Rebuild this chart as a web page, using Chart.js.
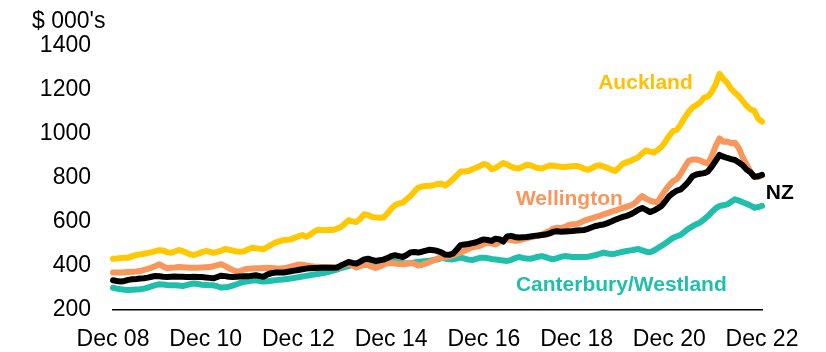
<!DOCTYPE html>
<html>
<head>
<meta charset="utf-8">
<script src="https://cdn.jsdelivr.net/npm/chart.js@4/dist/chart.umd.min.js"></script>
<style>
  html, body { margin: 0; padding: 0; background: #fff; }
  #wrap { width: 826px; height: 352px; position: relative; }
</style>
</head>
<body>
<div id="wrap"><canvas id="c" width="826" height="352"></canvas></div>
<script>
// ---- Data (monthly, Dec 08 .. Dec 22), $ 000's ----
const tickLabels = ['Dec 08','Dec 10','Dec 12','Dec 14','Dec 16','Dec 18','Dec 20','Dec 22'];
const yTickValues = [200, 400, 600, 800, 1000, 1200, 1400];
const unitLabel = "$ 000's";

const auckland = [
433,434,436,437,438,445,450,453,456,459,463,468,472,470,463,460,466,473,468,460,453,450,456,463,
468,465,460,464,470,477,474,470,466,465,467,476,483,481,478,477,487,497,506,512,517,519,521,528,
535,541,533,542,555,564,564,563,565,564,570,577,592,608,603,600,615,635,632,623,621,619,620,638,
660,677,684,688,703,718,738,756,761,764,765,767,773,774,766,778,794,812,829,830,832,840,847,855,
864,858,840,845,857,868,862,852,845,843,851,860,858,851,845,843,850,857,856,853,851,850,852,854,
855,850,842,837,845,855,858,852,846,838,832,848,865,872,878,886,895,912,926,920,915,928,942,965,
992,1014,1020,1045,1075,1100,1120,1132,1143,1165,1170,1192,1225,1274,1250,1232,1205,1188,1172,1150,
1128,1112,1105,1070,1056];

const wellington = [
370,370,371,372,373,374,375,377,382,387,393,400,408,398,390,392,393,395,394,393,392,392,392,393,
394,395,399,404,408,400,390,382,375,378,384,388,389,390,390,391,392,391,390,388,390,392,397,402,
407,406,403,400,398,397,396,395,394,393,392,399,406,411,403,393,399,406,404,397,391,398,406,413,
413,411,409,408,410,414,410,402,405,412,418,425,435,437,440,443,448,455,461,469,478,485,488,492,
500,506,502,498,509,519,520,518,515,516,521,526,530,534,537,543,551,560,570,574,572,578,587,590,
591,597,606,612,617,623,628,635,640,647,652,658,664,670,675,685,702,718,706,697,692,690,720,745,
768,786,796,820,850,878,884,884,880,872,865,900,945,980,965,966,958,960,935,895,
862,830,805,805,812];

const nz = [
335,332,330,332,337,340,341,343,344,347,351,355,353,351,350,351,352,351,351,350,350,351,350,350,
348,346,344,350,356,354,351,350,351,352,353,353,356,358,354,351,362,367,370,370,370,373,376,379,
382,385,388,390,391,391,392,392,392,392,393,402,410,418,414,411,420,430,433,428,423,426,429,436,
445,449,445,441,450,462,464,461,465,470,474,472,468,462,452,451,456,475,495,498,500,504,508,515,
521,518,514,524,522,511,534,537,532,530,531,532,534,537,539,541,543,548,556,558,556,557,558,559,
561,562,564,569,576,582,586,589,595,602,610,617,623,628,635,645,656,664,655,645,652,662,673,695,
718,732,743,748,765,784,808,816,819,822,830,852,878,905,897,891,886,882,870,858,
838,826,806,808,814];

const canterbury = [
301,297,294,292,291,292,293,294,297,302,308,313,317,316,314,313,312,311,309,313,318,320,318,315,
314,313,312,308,302,303,306,311,317,323,328,331,334,335,331,329,331,333,335,337,339,341,343,346,
349,352,355,358,361,364,367,370,374,379,384,390,395,400,405,407,408,410,411,411,413,416,418,420,
421,419,416,414,413,413,416,419,421,423,424,427,430,436,434,431,430,434,438,434,429,427,432,437,
438,435,432,430,427,425,423,427,435,441,437,434,433,437,442,445,440,434,431,436,442,445,443,441,
441,441,441,442,446,450,455,461,457,454,456,461,465,468,471,474,477,471,465,462,470,481,491,503,
516,528,535,542,556,570,580,590,598,612,627,645,662,673,676,680,692,703,697,690,
683,675,665,668,673];

const monthNames = ['Jan','Feb','Mar','Apr','May','Jun','Jul','Aug','Sep','Oct','Nov','Dec'];
const categories = [];
for (let i = 0; i < auckland.length; i++) {
  const m = (11 + i) % 12;
  const y = 8 + Math.floor((11 + i) / 12);
  categories.push(monthNames[m] + ' ' + String(y).padStart(2, '0'));
}

// ---- Series labels placed in data space (index, value at baseline) ----
const seriesLabels = [
  { text: 'Auckland', idx: 125.6, val: 1204, color: '#FFC000' },
  { text: 'Wellington', idx: 104.3, val: 677, color: '#F8965C' },
  { text: 'Canterbury/Westland', idx: 104.3, val: 286, color: '#20BFAC' },
  { text: 'NZ', idx: 169, val: 704, color: '#000000' }
];

const FONT = '"Liberation Sans", Arial, Helvetica, sans-serif';

const labelPlugin = {
  id: 'labels',
  afterDraw(chart) {
    const ctx = chart.ctx;
    const xs = chart.scales.x, ys = chart.scales.y;
    ctx.save();
    ctx.textBaseline = 'alphabetic';
    ctx.textAlign = 'left';
    ctx.font = 'bold 21px ' + FONT;
    seriesLabels.forEach(l => {
      ctx.fillStyle = l.color;
      ctx.fillText(l.text, xs.getPixelForValue(l.idx), ys.getPixelForValue(l.val));
    });
    ctx.font = '23px ' + FONT;
    ctx.fillStyle = '#000';
    ctx.fillText(unitLabel, 32, 28);
    ctx.restore();
  }
};

const tickSet = new Set(tickLabels);
const common = { pointRadius: 0, pointHoverRadius: 0, borderWidth: 6, tension: 0, fill: false,
                 borderJoinStyle: 'round', borderCapStyle: 'round' };

new Chart(document.getElementById('c'), {
  type: 'line',
  data: {
    labels: categories,
    datasets: [
      Object.assign({ label: 'NZ', data: nz, borderColor: '#000000', order: 1 }, common),
      Object.assign({ label: 'Auckland', data: auckland, borderColor: '#FFC800', order: 2 }, common),
      Object.assign({ label: 'Wellington', data: wellington, borderColor: '#F8965C', order: 3 }, common),
      Object.assign({ label: 'Canterbury/Westland', data: canterbury, borderColor: '#20BFAC', order: 4 }, common)
    ]
  },
  options: {
    responsive: false,
    animation: false,
    events: [],
    layout: { padding: { top: 46, right: 64, bottom: 0, left: 0 } },
    plugins: { legend: { display: false }, tooltip: { enabled: false }, title: { display: false } },
    scales: {
      x: {
        type: 'category',
        offset: false,
        grid: { display: false, drawTicks: false },
        border: { display: true, color: '#000', width: 1.5 },
        ticks: {
          autoSkip: false, maxRotation: 0, minRotation: 0, padding: 16,
          color: '#000', font: { family: FONT, size: 23 },
          callback: function (v, i) { const l = categories[i]; return tickSet.has(l) ? l : ''; }
        },
        afterFit: s => { s.height = 42; }
      },
      y: {
        min: yTickValues[0],
        max: yTickValues[yTickValues.length - 1],
        grid: { display: false, drawTicks: false },
        border: { display: false },
        ticks: {
          stepSize: yTickValues[1] - yTickValues[0], padding: 22,
          color: '#000', font: { family: FONT, size: 23 },
          callback: v => String(v)
        },
        afterFit: s => { s.width = 113; }
      }
    }
  },
  plugins: [labelPlugin]
});
</script>
</body>
</html>
